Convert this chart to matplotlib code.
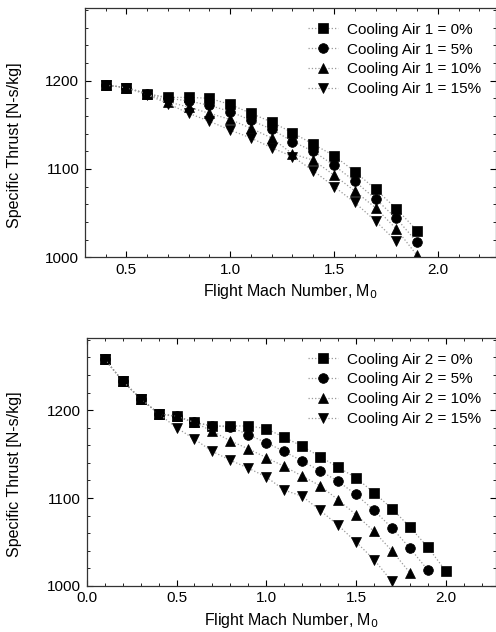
import numpy as np
import matplotlib
matplotlib.use("Agg")
import matplotlib.pyplot as plt
from matplotlib.ticker import MultipleLocator

plt.rcParams['font.family'] = ['Liberation Sans', 'DejaVu Sans']

# cooling air 1 (top panel)
mach1 = [0.4, 0.5, 0.6, 0.7, 0.8, 0.9, 1.0, 1.1, 1.2, 1.3, 1.4, 1.5, 1.6, 1.7, 1.8, 1.9]
ca1_0 = [1195, 1192, 1185, 1181, 1181, 1180, 1173, 1163, 1153, 1141, 1128, 1115, 1097, 1077, 1055, 1030]
ca1_5 = [1195, 1192, 1185, 1180, 1177, 1172, 1165, 1155, 1145, 1131, 1120, 1104, 1086, 1066, 1044, 1017]
ca1_10 = [1195, 1192, 1185, 1176, 1170, 1163, 1156, 1146, 1135, 1117, 1110, 1093, 1075, 1056, 1032, 1002]
ca1_15 = [1195, 1192, 1184, 1174, 1163, 1154, 1144, 1135, 1124, 1114, 1098, 1080, 1062, 1041, 1018]

# cooling air 2 (bottom panel)
mach2 = [0.1, 0.2, 0.3, 0.4, 0.5, 0.6, 0.7, 0.8, 0.9, 1.0, 1.1, 1.2, 1.3, 1.4, 1.5, 1.6, 1.7, 1.8, 1.9, 2.0]
ca2_0 = [1258, 1233, 1213, 1196, 1193, 1186, 1182, 1182, 1182, 1179, 1169, 1159, 1147, 1135, 1123, 1106, 1088, 1067, 1044, 1017]
ca2_5 = [1258, 1233, 1213, 1196, 1193, 1186, 1182, 1181, 1172, 1163, 1153, 1142, 1131, 1119, 1104, 1086, 1066, 1043, 1018]
ca2_10 = [1258, 1233, 1213, 1196, 1193, 1186, 1176, 1165, 1156, 1146, 1136, 1125, 1114, 1098, 1081, 1062, 1040, 1015]
ca2_15 = [1258, 1233, 1213, 1196, 1180, 1167, 1153, 1143, 1134, 1124, 1109, 1102, 1086, 1069, 1050, 1030, 1005]

pcts = ['0%', '5%', '10%', '15%']
markers = ['s', 'o', '^', 'v']

fig = plt.figure(figsize=(4.96, 6.32), dpi=100)
ax1 = fig.add_axes([0.171, 0.593, 0.829, 0.394])
ax2 = fig.add_axes([0.175, 0.073, 0.825, 0.392])


def draw(ax, x, series, num, xlim, ylab_x):
    for s, m, p in zip(series, markers, pcts):
        ax.plot(x[:len(s)], s, linestyle=':', color='#999999', linewidth=0.9,
                marker=m, markersize=7, markerfacecolor='black',
                markeredgecolor='black', markeredgewidth=0.5,
                label='Cooling Air %d = %s' % (num, p))
    ax.set_xlim(*xlim)
    ax.set_ylim(1000, 1282)
    ax.xaxis.set_major_locator(MultipleLocator(0.5))
    ax.xaxis.set_minor_locator(MultipleLocator(0.1))
    ax.yaxis.set_major_locator(MultipleLocator(100))
    ax.yaxis.set_minor_locator(MultipleLocator(20))
    ax.xaxis.set_major_formatter(plt.FuncFormatter(lambda v, p: '%.1f' % v))
    ax.tick_params(which='both', direction='in', top=True, right=True, labelsize=11)
    ax.tick_params(which='major', length=4, pad=4)
    ax.tick_params(which='minor', length=2)
    for sp in ax.spines.values():
        sp.set_color('#333333')
        sp.set_linewidth(0.9)
    ax.set_xlabel('Flight Mach Number, M$_0$', fontsize=11.5, labelpad=4)
    ax.set_ylabel('Specific Thrust [N-s/kg]', fontsize=11.5)
    ax.yaxis.set_label_coords(ylab_x, 0.45)
    ax.legend(loc='upper right', frameon=False, fontsize=11, handlelength=2.0,
              handletextpad=0.6, labelspacing=0.38, borderaxespad=0.55)


draw(ax1, mach1, [ca1_0, ca1_5, ca1_10, ca1_15], 1, (0.3, 2.28), -0.153)
draw(ax2, mach2, [ca2_0, ca2_5, ca2_10, ca2_15], 2, (0.0, 2.28), -0.159)

fig.savefig('out.png', dpi=100)
